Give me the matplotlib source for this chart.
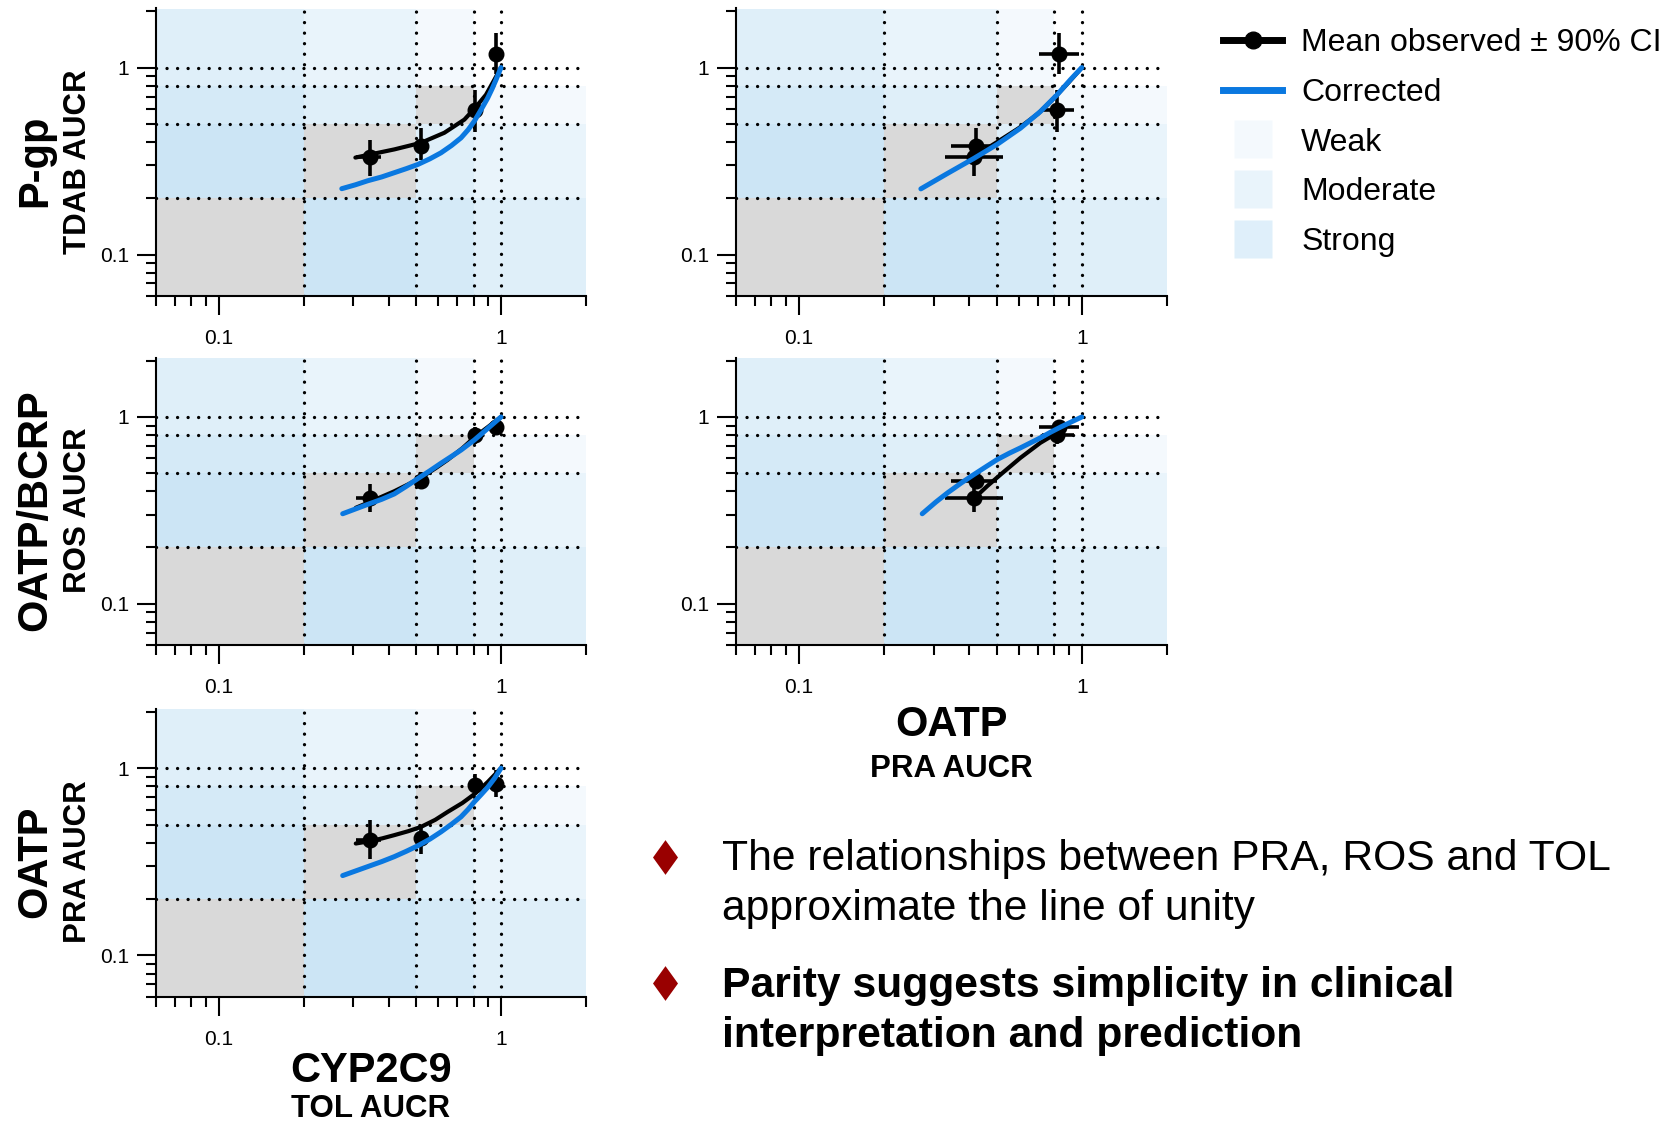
import matplotlib

matplotlib.use("Agg")
import matplotlib.pyplot as plt
from matplotlib.lines import Line2D
from matplotlib.patches import Rectangle
from matplotlib.ticker import FixedLocator, FixedFormatter, LogLocator, NullFormatter

plt.rcParams["font.family"] = ["Liberation Sans", "DejaVu Sans"]

# Probe AUC ratios (mean and 90% CI), one entry per treatment arm
tol_mean = [0.344, 0.521, 0.809, 0.960]
tol_lo = [0.306, 0.500, 0.790, 0.940]
tol_hi = [0.376, 0.545, 0.830, 0.980]

pra_mean = [0.416, 0.422, 0.817, 0.828]
pra_lo = [0.328, 0.346, 0.724, 0.704]
pra_hi = [0.528, 0.500, 0.935, 0.981]

ros_mean = [0.368, 0.456, 0.802, 0.887]
ros_lo = [0.310, 0.415, 0.715, 0.815]
ros_hi = [0.435, 0.510, 0.880, 0.960]

tdab_mean = [0.333, 0.380, 0.596, 1.180]
tdab_lo = [0.263, 0.319, 0.454, 0.920]
tdab_hi = [0.412, 0.473, 0.760, 1.530]

# Fitted relationship through the observed means, and the corrected one
tdab_tol_obs_x = [0.305, 0.344, 0.419, 0.521, 0.630, 0.742, 0.809, 0.885, 0.947, 1.0]
tdab_tol_obs_y = [0.330, 0.343, 0.365, 0.396, 0.448, 0.527, 0.608, 0.716, 0.860, 1.0]
tdab_tol_cor_x = [0.273, 0.305, 0.337, 0.378, 0.419, 0.462, 0.507, 0.560, 0.613,
                  0.668, 0.722, 0.765, 0.804, 0.850, 0.897, 0.930, 0.960, 1.0]
tdab_tol_cor_y = [0.225, 0.236, 0.248, 0.260, 0.274, 0.288, 0.303, 0.325, 0.350,
                  0.383, 0.421, 0.465, 0.516, 0.595, 0.687, 0.770, 0.860, 1.0]

tdab_pra_obs_x = [0.416, 0.460, 0.500, 0.600, 0.700, 0.800, 0.900, 1.0]
tdab_pra_obs_y = [0.330, 0.368, 0.398, 0.475, 0.566, 0.690, 0.835, 1.0]
tdab_pra_cor_x = [0.270, 0.336, 0.416, 0.503, 0.607, 0.714, 0.817, 0.910, 1.0]
tdab_pra_cor_y = [0.2245, 0.272, 0.327, 0.389, 0.474, 0.582, 0.714, 0.859, 1.0]

ros_tol_obs_x = [0.306, 0.344, 0.380, 0.419, 0.470, 0.524, 0.585, 0.647, 0.730, 0.809, 0.900, 1.0]
ros_tol_obs_y = [0.326, 0.351, 0.375, 0.400, 0.436, 0.476, 0.530, 0.589, 0.680, 0.783, 0.885, 1.0]
ros_tol_cor_x = [0.275, 0.337, 0.378, 0.419, 0.462, 0.507, 0.560, 0.613, 0.668, 0.722, 0.804, 0.897, 1.0]
ros_tol_cor_y = [0.303, 0.340, 0.362, 0.387, 0.425, 0.467, 0.515, 0.565, 0.615, 0.665, 0.752, 0.867, 1.0]

ros_pra_obs_x = [0.416, 0.464, 0.517, 0.607, 0.714, 0.817, 0.870]
ros_pra_obs_y = [0.366, 0.427, 0.492, 0.604, 0.727, 0.821, 0.870]
ros_pra_cor_x = [0.273, 0.305, 0.336, 0.375, 0.416, 0.460, 0.503, 0.555, 0.607, 0.660,
                 0.714, 0.775, 0.839, 0.920, 1.0]
ros_pra_cor_y = [0.303, 0.350, 0.393, 0.443, 0.492, 0.543, 0.592, 0.640, 0.683, 0.728,
                 0.773, 0.828, 0.881, 0.942, 1.0]

pra_tol_obs_x = [0.306, 0.344, 0.380, 0.419, 0.470, 0.521, 0.585, 0.647, 0.730, 0.809, 0.897, 1.0]
pra_tol_obs_y = [0.396, 0.408, 0.422, 0.439, 0.461, 0.486, 0.530, 0.584, 0.652, 0.731, 0.843, 1.0]
pra_tol_cor_x = [0.275, 0.337, 0.378, 0.419, 0.462, 0.507, 0.560, 0.613, 0.668, 0.722,
                 0.765, 0.804, 0.850, 0.897, 0.950, 1.0]
pra_tol_cor_y = [0.267, 0.298, 0.317, 0.337, 0.360, 0.385, 0.418, 0.457, 0.502, 0.550,
                 0.603, 0.660, 0.722, 0.790, 0.885, 1.0]

# Interaction strength cut-offs (AUCR) and reference lines
band_edges = [0.8, 0.5, 0.2]
ref_lines = [0.2, 0.5, 0.8, 1.0]
band_names = ["Weak", "Moderate", "Strong"]

X_LIM = (0.06, 2.0)
Y_LIM = (0.06, 2.07)

BAND_COLOR = "#44a4e4"
BAND_ALPHA = 0.06
GREY = "#d9d9d9"
BLUE = "#0a78e0"
BULLET_RED = "#990000"

W, H = 1675, 1125


def px_axes(left, top, right, bottom):
    return [left / W, 1 - bottom / H, (right - left) / W, (bottom - top) / H]


def draw_panel(ax, x, y, obs, cor):
    lo_x, lo_y = X_LIM[0], Y_LIM[0]
    # nested bands: every cut-off adds one translucent layer along each axis
    for t in band_edges:
        ax.axvspan(lo_x, t, color=BAND_COLOR, alpha=BAND_ALPHA, lw=0, zorder=0)
        ax.axhspan(lo_y, t, color=BAND_COLOR, alpha=BAND_ALPHA, lw=0, zorder=0)
    edges = [lo_x] + band_edges[::-1]
    for a, b in zip(edges[:-1], edges[1:]):
        ax.add_patch(Rectangle((a, a), b - a, b - a, facecolor=GREY, lw=0, zorder=0.5))

    for v in ref_lines:
        kw = dict(color="black", lw=2.4, linestyle=(0, (0.01, 3.15)),
                  dash_capstyle="round", zorder=1)
        ax.axvline(v, **kw)
        ax.axhline(v, **kw)

    xm, xl, xh = x
    ym, yl, yh = y
    xerr = [[m - l for m, l in zip(xm, xl)], [h - m for m, h in zip(xm, xh)]]
    yerr = [[m - l for m, l in zip(ym, yl)], [h - m for m, h in zip(ym, yh)]]
    ax.plot(obs[0], obs[1], color="black", lw=3.0, zorder=3, solid_capstyle="round",
            solid_joinstyle="round")
    ax.errorbar(xm, ym, xerr=xerr, yerr=yerr, fmt="o", color="black", ms=10.5,
                elinewidth=2.6, capsize=0, zorder=4)
    ax.plot(cor[0], cor[1], color=BLUE, lw=3.6, zorder=5, solid_capstyle="round",
            solid_joinstyle="round")

    ax.set_xscale("log")
    ax.set_yscale("log")
    ax.set_xlim(*X_LIM)
    ax.set_ylim(*Y_LIM)
    for side in ("top", "right"):
        ax.spines[side].set_visible(False)
    for side in ("left", "bottom"):
        ax.spines[side].set_linewidth(1.5)

    for axis in (ax.xaxis, ax.yaxis):
        axis.set_major_locator(FixedLocator([0.1, 1]))
        axis.set_major_formatter(FixedFormatter(["0.1", "1"]))
        axis.set_minor_locator(LogLocator(base=10, subs=range(2, 10)))
        axis.set_minor_formatter(NullFormatter())
    ax.tick_params(which="major", length=13.5, width=1.5, labelsize=15)
    ax.tick_params(which="minor", length=7, width=1.5)
    ax.tick_params(axis="x", which="major", pad=10)
    ax.tick_params(axis="y", which="major", pad=6)


fig = plt.figure(figsize=(W / 100, H / 100), dpi=100)

col_x = [(156, 586), (736, 1167)]
row_y = [(8.5, 296), (358, 645), (709, 997)]

tol = (tol_mean, tol_lo, tol_hi)
pra = (pra_mean, pra_lo, pra_hi)
ros = (ros_mean, ros_lo, ros_hi)
tdab = (tdab_mean, tdab_lo, tdab_hi)

panels = [
    (0, 0, tol, tdab, (tdab_tol_obs_x, tdab_tol_obs_y), (tdab_tol_cor_x, tdab_tol_cor_y)),
    (0, 1, pra, tdab, (tdab_pra_obs_x, tdab_pra_obs_y), (tdab_pra_cor_x, tdab_pra_cor_y)),
    (1, 0, tol, ros, (ros_tol_obs_x, ros_tol_obs_y), (ros_tol_cor_x, ros_tol_cor_y)),
    (1, 1, pra, ros, (ros_pra_obs_x, ros_pra_obs_y), (ros_pra_cor_x, ros_pra_cor_y)),
    (2, 0, tol, pra, (pra_tol_obs_x, pra_tol_obs_y), (pra_tol_cor_x, pra_tol_cor_y)),
]

for r, c, x, y, obs, cor in panels:
    (l, rt), (t, b) = col_x[c], row_y[r]
    ax = fig.add_axes(px_axes(l, t, rt, b))
    draw_panel(ax, x, y, obs, cor)

# row titles (transporter + probe) on the left
row_titles = [("P-gp", "TDAB AUCR"), ("OATP/BCRP", "ROS AUCR"), ("OATP", "PRA AUCR")]
for (t, b), (big, small) in zip(row_y, row_titles):
    yc = 1 - ((t + b) / 2 + 9) / H
    fig.text(46 / W, yc, big, rotation=90, rotation_mode="anchor", ha="center",
             va="baseline", fontsize=30, fontweight="bold")
    fig.text(86 / W, yc, small, rotation=90, rotation_mode="anchor", ha="center",
             va="baseline", fontsize=22.5, fontweight="bold")

# column titles under the lowest panel of each column
col_titles = [("CYP2C9", "TOL AUCR", 1082, 1117), ("OATP", "PRA AUCR", 736, 776.6)]
for (l, rt), (big, small, yb1, yb2) in zip(col_x, col_titles):
    xc = (l + rt) / 2 / W
    fig.text(xc, 1 - yb1 / H, big, ha="center", va="baseline", fontsize=30,
             fontweight="bold")
    fig.text(xc, 1 - yb2 / H, small, ha="center", va="baseline", fontsize=22.5,
             fontweight="bold")

# legend
handles = [
    Line2D([], [], color="black", lw=5, marker="o", ms=12),
    Line2D([], [], color=BLUE, lw=5),
]
for n, _ in enumerate(band_names, start=1):
    handles.append(Line2D([], [], ls="none", marker="s", ms=27, mec="none",
                          mfc=BAND_COLOR, alpha=1 - (1 - BAND_ALPHA) ** n))
labels = ["Mean observed \u00b1 90% CI", "Corrected"] + band_names
fig.legend(handles, labels, loc="upper left", bbox_to_anchor=(1223 / W, 1 - 28 / H),
           frameon=False, fontsize=23, handlelength=1.85, handletextpad=0.6,
           labelspacing=0.62, borderpad=0, borderaxespad=0)

# take-home bullets
diamond = [(0, 1), (0.72, 0), (0, -1), (-0.72, 0)]
bullets = [
    (857, [("The relationships between PRA, ROS and TOL", 870),
           ("approximate the line of unity", 920)], "normal"),
    (983, [("Parity suggests simplicity in clinical", 996.7),
           ("interpretation and prediction", 1046.7)], "bold"),
]
for yc, lines, weight in bullets:
    fig.add_artist(Line2D([665 / W], [1 - yc / H], marker=diamond, ms=25,
                          color=BULLET_RED, mec="none", transform=fig.transFigure))
    for text, yb in lines:
        fig.text(722 / W, 1 - yb / H, text, ha="left", va="baseline", fontsize=30.7,
                 fontweight=weight)

fig.savefig("out.png", dpi=100)
